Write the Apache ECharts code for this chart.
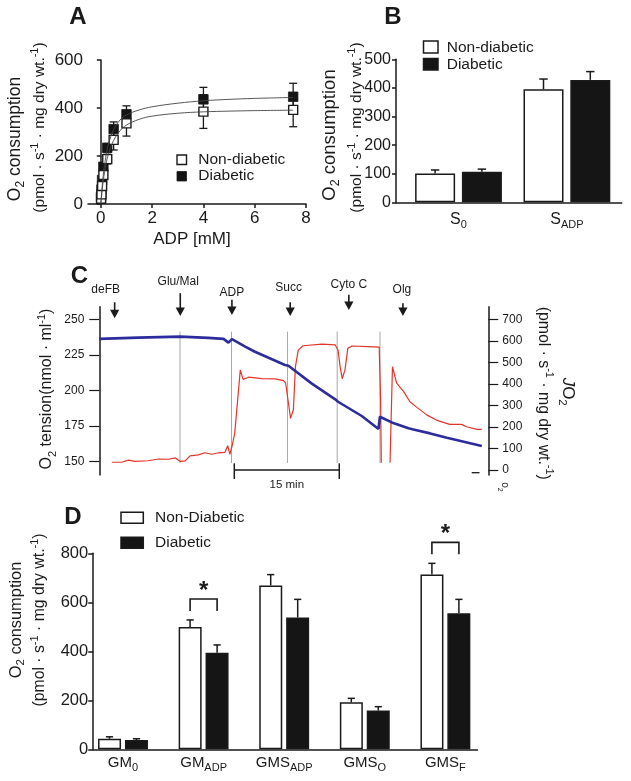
<!DOCTYPE html>
<html><head><meta charset="utf-8">
<script src="https://cdn.jsdelivr.net/npm/echarts@6/dist/echarts.min.js"></script>
<style>html,body{margin:0;padding:0;background:#fff}#c{width:631px;height:781px}</style>
</head><body><div id="c"></div><script>
// ---------------- Panel A : ADP titration ----------------
const adpConc = [0.01, 0.025, 0.05, 0.1, 0.25, 0.5, 1, 4, 7.5];
const aNonDiabetic = [22, 40, 75, 121, 187, 267, 336, 385, 392];
const aNonDiabeticSem = [5, 8, 12, 18, 20, 42, 53, 70, 70];
const aDiabetic = [30, 60, 100, 155, 234, 312, 374, 436, 447];
const aDiabeticSem = [6, 10, 14, 18, 18, 30, 35, 50, 56];
const fitX = [0, 0.05, 0.1, 0.2, 0.3, 0.5, 0.75, 1, 1.5, 2, 3, 4, 5, 6, 7.5];
const fitNonDiabetic = [0, 55, 100, 165, 210, 265, 305, 329, 353, 366, 378, 384, 387, 389, 391];
const fitDiabetic = [0, 70, 125, 200, 250, 310, 350, 371, 392, 405, 420, 430, 436, 440, 444];
const aXTicks = [0, 2, 4, 6, 8];
// ---------------- Panel B ----------------
const bCatMain = ['S', 'S'];
const bCatSub = ['0', 'ADP'];
const bNonDiabetic = [101, 395];
const bNonDiabeticSem = [12, 36];
const bDiabetic = [107, 428];
const bDiabeticSem = [9, 29];
// ---------------- Panel C : trace ----------------
const cTensionTime = [0, 5.6, 11.6, 15.6, 17.8, 18.5, 19.0, 20.9, 22.3, 26.6, 27.1, 30.4, 33.8, 34.2, 37.6, 40.0, 40.2, 41.9, 44.3, 45.0, 47.4, 49.8, 54.8];
const cTension = [236.2, 237.1, 237.8, 236.9, 236.2, 233.6, 236.0, 230.8, 227.2, 217.9, 217.4, 205.0, 193.8, 192.1, 182.1, 173.0, 181.6, 177.6, 173.5, 172.7, 169.9, 166.9, 161.0];
const cFluxTime = [1.8, 3.2, 4.2, 5.1, 7.0, 8.5, 9.9, 10.9, 11.6, 12.3, 13.0, 14.2, 15.1, 16.1, 17.1, 18.0, 18.4, 18.7, 19.0, 19.4, 20.2, 20.6, 21.4, 23.3, 25.2, 26.4, 26.7, 27.1, 27.4, 27.8, 28.1, 28.5, 29.2, 31.9, 33.8, 34.2, 34.5, 34.8, 35.2, 35.6, 36.2, 38.5, 40.1, 40.3, 40.4, 41.0, 41.65, 42.0, 42.6, 43.6, 44.5, 45.5, 46.9, 48.3, 50.2, 51.9, 52.6, 54.1, 54.8];
const cFlux = [36, 36, 46, 40, 43, 51, 50, 56, 40, 42, 66, 70, 80, 73, 80, 82, 113, 73, 108, 170, 465, 421, 431, 424, 423, 415, 403, 310, 240, 279, 480, 557, 577, 585, 581, 557, 480, 424, 465, 565, 576, 573, 571, 325, 34, null, 34, 480, 403, 364, 317, 291, 256, 232, 212, 212, 201, 189, 189];
const cEventLabels = ['deFB', 'Glu/Mal', 'ADP', 'Succ', 'Cyto C', 'Olg'];
const cEventTimes = [2.2, 11.6, 19.0, 27.35, 35.75, 43.5];
const cMarkerTimes = [11.56, 18.94, 26.96, 34.08, 40.21];
const cScaleBar = [19.34, 34.38]; // 15 min
const cLeftTicks = [150, 175, 200, 225, 250];
const cRightTicks = [0, 100, 200, 300, 400, 500, 600, 700];
// ---------------- Panel D ----------------
const dCatMain = ['GM', 'GM', 'GMS', 'GMS', 'GMS'];
const dCatSub = ['0', 'ADP', 'ADP', 'O', 'F'];
const dNonDiabetic = [43, 499, 669, 192, 713];
const dNonDiabeticSem = [8, 29, 44, 16, 46];
const dDiabetic = [38, 394, 538, 158, 555];
const dDiabeticSem = [5, 32, 74, 16, 57];
const dSignificant = [1, 4];

// ---------------- layout constants ----------------
const FONT = "'Liberation Sans', Arial, Helvetica, sans-serif";
const INK = '#1a1a1a';
const cArrowTop = [261.9, 268.3, 263.6, 261.9, 267.1, 261.2];
const cArrowTip = [250.7, 252.3, 253.0, 252.3, 256.5, 252.3];
const cLabelLevel = [270.6, 276.4, 268.7, 271.8, 274.1, 270.6];
const cLabelShift = [-9, -2, 0, -1.5, 0, -1];

const chart = echarts.init(document.getElementById('c'), null, {renderer: 'canvas', width: 631, height: 781});

function zip(a, b) { return a.map((v, i) => [v, b[i]]); }
const axisLineStyle = {show: true, lineStyle: {color: INK, width: 1.5}};
const tickStyle = {lineStyle: {color: INK, width: 1.5}};

function errBarUp(offset, cap) {
  return function (params, api) {
    const c = api.coord([api.value(0), api.value(1)]);
    const t = api.coord([api.value(0), api.value(1) + api.value(2)]);
    const x = c[0] + offset;
    return {type: 'group', children: [
      {type: 'line', shape: {x1: x, y1: c[1], x2: x, y2: t[1]}, style: {stroke: INK, lineWidth: 1.5}},
      {type: 'line', shape: {x1: x - cap, y1: t[1], x2: x + cap, y2: t[1]}, style: {stroke: INK, lineWidth: 1.5}}
    ]};
  };
}
function errBarBoth(params, api) {
  const lo = api.coord([api.value(0), api.value(1) - api.value(2)]);
  const hi = api.coord([api.value(0), api.value(1) + api.value(2)]);
  const x = lo[0];
  const st = {stroke: INK, lineWidth: 1.3};
  return {type: 'group', children: [
    {type: 'line', shape: {x1: x, y1: lo[1], x2: x, y2: hi[1]}, style: st},
    {type: 'line', shape: {x1: x - 4, y1: hi[1], x2: x + 4, y2: hi[1]}, style: st},
    {type: 'line', shape: {x1: x - 4, y1: lo[1], x2: x + 4, y2: lo[1]}, style: st}
  ]};
}

function titleText(x, y, rot, parts, size, subSize) {
  return {
    type: 'text', x: x, y: y, rotation: rot,
    style: {
      text: parts, fontSize: size, fontFamily: FONT, fill: INK, lineHeight: size + 6,
      align: 'center', verticalAlign: 'middle', textAlign: 'center', textVerticalAlign: 'middle',
      rich: {
        n: {fontSize: size, fontFamily: FONT, fill: INK, lineHeight: size + 6},
        i: {fontSize: size, fontFamily: FONT, fill: INK, lineHeight: size + 6, fontStyle: 'italic'},
        sub: {fontSize: subSize, fontFamily: FONT, fill: INK, lineHeight: subSize, verticalAlign: 'bottom'},
        sup: {fontSize: subSize, fontFamily: FONT, fill: INK, lineHeight: subSize, verticalAlign: 'top'}
      }
    }
  };
}
function plainText(x, y, text, size, opts) {
  return Object.assign({type: 'text', x: x, y: y, style: Object.assign({
    text: text, fontSize: size, fontFamily: FONT, fill: INK,
    align: 'left', verticalAlign: 'middle', textAlign: 'left', textVerticalAlign: 'middle'}, (opts && opts.style) || {})},
    (opts && opts.el) || {});
}
const unitsLine = '{n|(pmol · s}{sup|-1}{n| · mg dry wt.}{sup|-1}{n|)}';

const catRich = (main, sub) => ({
  m: {fontSize: main, lineHeight: main + 6, color: INK, fontFamily: FONT},
  s: {fontSize: sub, lineHeight: sub, verticalAlign: 'bottom', color: INK, fontFamily: FONT}
});

const option = {
  animation: false,
  backgroundColor: '#fff',
  textStyle: {fontFamily: FONT, color: INK},
  grid: [
    {left: 88, top: 60, width: 218, height: 144},          // A
    {left: 404.3, top: 59.3, width: 216.8, height: 143},   // B bars
    {left: 396, top: 59.3, width: 225.7, height: 143},     // B axes
    {left: 99.3, top: 306.7, width: 389, height: 168.3},   // C
    {left: 82.7, top: 553.3, width: 403, height: 196},     // D bars
    {left: 93.2, top: 553.3, width: 384.3, height: 196}    // D axes
  ],
  xAxis: [
    {type: 'value', gridIndex: 0, min: -0.5, max: 8, axisLine: axisLineStyle,
      axisTick: Object.assign({length: 4, customValues: aXTicks}, tickStyle),
      axisLabel: {customValues: aXTicks, fontSize: 17, color: INK, margin: 6, fontFamily: FONT},
      splitLine: {show: false}},
    {type: 'category', gridIndex: 1, data: bCatSub, axisLine: {show: false}, axisTick: {show: false},
      axisLabel: {interval: 0, margin: 6, formatter: (v, i) => `{m|${bCatMain[i]}}{s|${bCatSub[i]}}`, rich: catRich(16, 11)}},
    {type: 'value', gridIndex: 2, min: 0, max: 1, axisLine: axisLineStyle, axisTick: {show: false},
      axisLabel: {show: false}, splitLine: {show: false}},
    {type: 'value', gridIndex: 3, min: 0, max: 55.73, show: false},
    {type: 'category', gridIndex: 4, data: dCatSub, axisLine: {show: false}, axisTick: {show: false},
      axisLabel: {interval: 0, margin: 3, formatter: (v, i) => `{m|${dCatMain[i]}}{s|${dCatSub[i]}}`, rich: catRich(15, 11)}},
    {type: 'value', gridIndex: 5, min: 0, max: 1, axisLine: axisLineStyle, axisTick: {show: false},
      axisLabel: {show: false}, splitLine: {show: false}}
  ],
  yAxis: [
    {type: 'value', gridIndex: 0, min: 0, max: 600, interval: 200, axisLine: axisLineStyle,
      axisTick: Object.assign({length: 4}, tickStyle),
      axisLabel: {fontSize: 17, color: INK, margin: 5, fontFamily: FONT}, splitLine: {show: false}},
    {type: 'value', gridIndex: 1, min: 0, max: 500, show: false},
    {type: 'value', gridIndex: 2, min: 0, max: 500, interval: 100, axisLine: axisLineStyle,
      axisTick: Object.assign({length: 4}, tickStyle),
      axisLabel: {fontSize: 16, color: INK, margin: 5, fontFamily: FONT}, splitLine: {show: false}},
    {type: 'value', gridIndex: 3, min: 140.7, max: 258.8, axisLine: axisLineStyle,
      axisTick: Object.assign({length: 10, customValues: cLeftTicks}, {lineStyle: {color: INK, width: 1.2}}),
      axisLabel: {customValues: cLeftTicks, fontSize: 12, color: INK, margin: 15, fontFamily: FONT},
      splitLine: {show: false}},
    {type: 'value', gridIndex: 3, position: 'right', min: -23.2, max: 758.5, axisLine: axisLineStyle,
      axisTick: Object.assign({length: 10, customValues: cRightTicks}, {lineStyle: {color: INK, width: 1.2}}),
      axisLabel: {customValues: cRightTicks, fontSize: 12, color: INK, margin: 14, fontFamily: FONT},
      splitLine: {show: false}},
    {type: 'value', gridIndex: 4, min: 0, max: 800, show: false},
    {type: 'value', gridIndex: 5, min: 0, max: 800, interval: 200, axisLine: axisLineStyle,
      axisTick: Object.assign({length: 5}, tickStyle),
      axisLabel: {fontSize: 16.5, color: INK, margin: 5, fontFamily: FONT}, splitLine: {show: false}}
  ],
  series: [
    // ---- A
    {type: 'line', name: 'fitND', xAxisIndex: 0, yAxisIndex: 0, data: zip(fitX, fitNonDiabetic), smooth: 0.4,
      showSymbol: false, symbol: 'none', lineStyle: {color: '#444', width: 0.9}},
    {type: 'line', name: 'fitD', xAxisIndex: 0, yAxisIndex: 0, data: zip(fitX, fitDiabetic), smooth: 0.4,
      showSymbol: false, symbol: 'none', lineStyle: {color: '#444', width: 0.9}},
    {type: 'custom', xAxisIndex: 0, yAxisIndex: 0, renderItem: errBarBoth, clip: false,
      data: adpConc.map((x, i) => [x, aNonDiabetic[i], aNonDiabeticSem[i]]), encode: {x: 0, y: 1}},
    {type: 'custom', xAxisIndex: 0, yAxisIndex: 0, renderItem: errBarBoth, clip: false,
      data: adpConc.map((x, i) => [x, aDiabetic[i], aDiabeticSem[i]]), encode: {x: 0, y: 1}},
    {type: 'scatter', name: 'Diabetic A', xAxisIndex: 0, yAxisIndex: 0, data: zip(adpConc, aDiabetic),
      symbol: 'rect', symbolSize: 9.5, itemStyle: {color: '#141414', borderColor: INK, borderWidth: 0.8, opacity: 1}},
    {type: 'scatter', name: 'Non-diabetic A', xAxisIndex: 0, yAxisIndex: 0, data: zip(adpConc, aNonDiabetic),
      symbol: 'rect', symbolSize: 9, itemStyle: {color: '#fff', borderColor: INK, borderWidth: 1.4, opacity: 1}},
    // ---- B
    {type: 'bar', name: 'Non-diabetic', xAxisIndex: 1, yAxisIndex: 1, data: bNonDiabetic, barWidth: 40, barGap: '17%',
      itemStyle: {color: '#fff', borderColor: INK, borderWidth: 1.5}},
    {type: 'bar', name: 'Diabetic', xAxisIndex: 1, yAxisIndex: 1, data: bDiabetic, barWidth: 40, barGap: '17%',
      itemStyle: {color: '#151515', borderColor: INK, borderWidth: 1.5}},
    {type: 'custom', xAxisIndex: 1, yAxisIndex: 1, renderItem: errBarUp(-23.4, 4.2), clip: false,
      data: bNonDiabetic.map((v, i) => [i, v, bNonDiabeticSem[i]]), encode: {x: 0, y: 1}},
    {type: 'custom', xAxisIndex: 1, yAxisIndex: 1, renderItem: errBarUp(23.4, 4.2), clip: false,
      data: bDiabetic.map((v, i) => [i, v, bDiabeticSem[i]]), encode: {x: 0, y: 1}},
    // ---- C
    {type: 'custom', xAxisIndex: 3, yAxisIndex: 3, clip: false,
      data: cMarkerTimes.map(t => [t, 200]), encode: {x: 0, y: 1},
      renderItem: (params, api) => {
        const a = api.coord([api.value(0), 241.3]);
        const b = api.coord([api.value(0), 149.1]);
        return {type: 'line', shape: {x1: a[0], y1: a[1], x2: b[0], y2: b[1]}, style: {stroke: '#a8a8a8', lineWidth: 1}};
      }},
    {type: 'line', name: 'JO2', xAxisIndex: 3, yAxisIndex: 4, data: zip(cFluxTime, cFlux), symbol: 'none',
      connectNulls: false, lineStyle: {color: '#e2362b', width: 1.2}},
    {type: 'line', name: 'O2 tension', xAxisIndex: 3, yAxisIndex: 3, data: zip(cTensionTime, cTension), symbol: 'none',
      lineStyle: {color: '#2c2c9c', width: 2.6}},
    {type: 'custom', xAxisIndex: 3, yAxisIndex: 3, clip: false,
      data: cEventTimes.map(t => [t, 250]), encode: {x: 0, y: 1},
      renderItem: (params, api) => {
        const i = params.dataIndex;
        const t = api.value(0);
        const top = api.coord([t, cArrowTop[i]]);
        const tip = api.coord([t, cArrowTip[i]]);
        const lab = api.coord([t, cLabelLevel[i]]);
        const x = top[0];
        return {type: 'group', children: [
          {type: 'line', shape: {x1: x, y1: top[1], x2: x, y2: tip[1] - 6}, style: {stroke: INK, lineWidth: 1.6}},
          {type: 'polygon', shape: {points: [[x - 4.6, tip[1] - 8.5], [x + 4.6, tip[1] - 8.5], [x, tip[1]]]}, style: {fill: INK}},
          {type: 'text', x: x + cLabelShift[i], y: lab[1], style: {text: cEventLabels[i], fontSize: 12, fontFamily: FONT, fill: INK,
            align: 'center', verticalAlign: 'middle', textAlign: 'center', textVerticalAlign: 'middle'}}
        ]};
      }},
    {type: 'custom', xAxisIndex: 3, yAxisIndex: 3, clip: false,
      data: [[cScaleBar[0], 150, cScaleBar[1]]], encode: {x: [0, 2], y: 1},
      renderItem: (params, api) => {
        const a = api.coord([api.value(0), 144.2]);
        const b = api.coord([api.value(2), 144.2]);
        const st = {stroke: INK, lineWidth: 1.5};
        return {type: 'group', children: [
          {type: 'line', shape: {x1: a[0], y1: a[1], x2: b[0], y2: b[1]}, style: st},
          {type: 'line', shape: {x1: a[0], y1: a[1] - 6.7, x2: a[0], y2: a[1] + 9}, style: st},
          {type: 'line', shape: {x1: b[0], y1: b[1] - 6.7, x2: b[0], y2: b[1] + 9}, style: st},
          {type: 'text', x: (a[0] + b[0]) / 2, y: a[1] + 15, style: {text: '15 min', fontSize: 11.5, fontFamily: FONT, fill: INK,
            align: 'center', verticalAlign: 'middle', textAlign: 'center', textVerticalAlign: 'middle'}}
        ]};
      }},
    // ---- D
    {type: 'bar', name: 'Non-Diabetic', xAxisIndex: 4, yAxisIndex: 5, data: dNonDiabetic, barWidth: 23, barGap: '17%',
      itemStyle: {color: '#fff', borderColor: INK, borderWidth: 1.5}},
    {type: 'bar', name: 'Diabetic D', xAxisIndex: 4, yAxisIndex: 5, data: dDiabetic, barWidth: 23, barGap: '17%',
      itemStyle: {color: '#151515', borderColor: INK, borderWidth: 1.5}},
    {type: 'custom', xAxisIndex: 4, yAxisIndex: 5, renderItem: errBarUp(-13.5, 3.6), clip: false,
      data: dNonDiabetic.map((v, i) => [i, v, dNonDiabeticSem[i]]), encode: {x: 0, y: 1}},
    {type: 'custom', xAxisIndex: 4, yAxisIndex: 5, renderItem: errBarUp(13.5, 3.6), clip: false,
      data: dDiabetic.map((v, i) => [i, v, dDiabeticSem[i]]), encode: {x: 0, y: 1}},
    {type: 'custom', xAxisIndex: 4, yAxisIndex: 5, clip: false,
      data: dSignificant.map(i => [i, dNonDiabetic[i] + dNonDiabeticSem[i], dDiabetic[i] + dDiabeticSem[i]]),
      encode: {x: 0, y: 1},
      renderItem: (params, api) => {
        const i = api.value(0);
        const p1 = api.coord([i, api.value(1)]);
        const p2 = api.coord([i, api.value(2)]);
        const topErr = Math.min(p1[1], p2[1]);
        const legB = topErr - 9, legT = legB - 12;
        const x1 = p1[0] - 13.5, x2 = p1[0] + 13.5;
        return {type: 'group', children: [
          {type: 'polyline', shape: {points: [[x1, legB], [x1, legT], [x2, legT], [x2, legB]]}, style: {stroke: INK, lineWidth: 1.6, fill: null}},
          {type: 'text', x: p1[0], y: legT - 8, style: {text: '*', fontSize: 24, fontWeight: 'bold', fontFamily: FONT, fill: INK,
            align: 'center', verticalAlign: 'middle', textAlign: 'center', textVerticalAlign: 'middle'}}
        ]};
      }}
  ],
  graphic: [
    // panel letters
    plainText(78, 17, 'A', 24, {style: {fontWeight: 'bold', align: 'center', textAlign: 'center'}}),
    plainText(393, 17, 'B', 24, {style: {fontWeight: 'bold', align: 'center', textAlign: 'center'}}),
    plainText(79.5, 276, 'C', 24, {style: {fontWeight: 'bold', align: 'center', textAlign: 'center'}}),
    plainText(73, 517.5, 'D', 24, {style: {fontWeight: 'bold', align: 'center', textAlign: 'center'}}),
    // A titles
    titleText(15, 139, Math.PI / 2, '{n|O}{sub|2}{n| consumption}', 17.5, 12),
    titleText(40, 127.5, Math.PI / 2, unitsLine, 15.5, 11),
    plainText(192, 239.5, 'ADP [mM]', 17, {style: {align: 'center', textAlign: 'center'}}),
    // A legend
    {type: 'rect', shape: {x: 177, y: 155, width: 9.5, height: 9.5}, style: {fill: '#fff', stroke: INK, lineWidth: 1.4}},
    {type: 'rect', shape: {x: 177, y: 171.5, width: 9.5, height: 9.5}, style: {fill: '#141414', stroke: INK, lineWidth: 0.8}},
    plainText(198.3, 159.5, 'Non-diabetic', 15.5),
    plainText(198.3, 176, 'Diabetic', 15.5),
    // B titles
    titleText(330, 135, Math.PI / 2, '{n|O}{sub|2}{n| consumption}', 18.5, 12.5),
    titleText(357, 127.5, Math.PI / 2, unitsLine, 15.5, 11),
    // B legend
    {type: 'rect', shape: {x: 423.5, y: 41, width: 14.5, height: 12}, style: {fill: '#fff', stroke: INK, lineWidth: 1.5}},
    {type: 'rect', shape: {x: 423.5, y: 58.5, width: 14.5, height: 11.5}, style: {fill: '#151515', stroke: INK, lineWidth: 1.5}},
    plainText(446.7, 47.7, 'Non-diabetic', 15.5),
    plainText(446.7, 64.3, 'Diabetic', 15.5),
    // C titles
    titleText(47, 389, Math.PI / 2, '{n|O}{sub|2}{n| tension(nmol · ml}{sup|-1}{n|)}', 16, 11),
    titleText(567.7, 391.7, -Math.PI / 2, '{i|J}{n|O}{sub|2}', 17, 11.5),
    titleText(543.6, 393.3, -Math.PI / 2, '{n|(pmol · s}{sup|-1}{n| · mg dry wt.}{sup|-1}{n|)}', 15.8, 11),
    titleText(504.5, 487, -Math.PI / 2, '{n|o}{sub|2}', 10, 7),
    {type: 'line', shape: {x1: 471.7, y1: 472.7, x2: 479.5, y2: 472.7}, style: {stroke: INK, lineWidth: 1.3}},
    // D titles
    titleText(16, 620, Math.PI / 2, '{n|O}{sub|2}{n| consumption}', 16.4, 11.5),
    titleText(40, 620, Math.PI / 2, unitsLine, 15.8, 11),
    // D legend
    {type: 'rect', shape: {x: 121, y: 512.3, width: 22.3, height: 11}, style: {fill: '#fff', stroke: INK, lineWidth: 1.5}},
    {type: 'rect', shape: {x: 121, y: 537.3, width: 22.3, height: 11}, style: {fill: '#151515', stroke: INK, lineWidth: 1.5}},
    plainText(155, 517.5, 'Non-Diabetic', 15.5),
    plainText(155, 542.5, 'Diabetic', 15.5)
  ]
};
chart.setOption(option);
</script></body></html>
